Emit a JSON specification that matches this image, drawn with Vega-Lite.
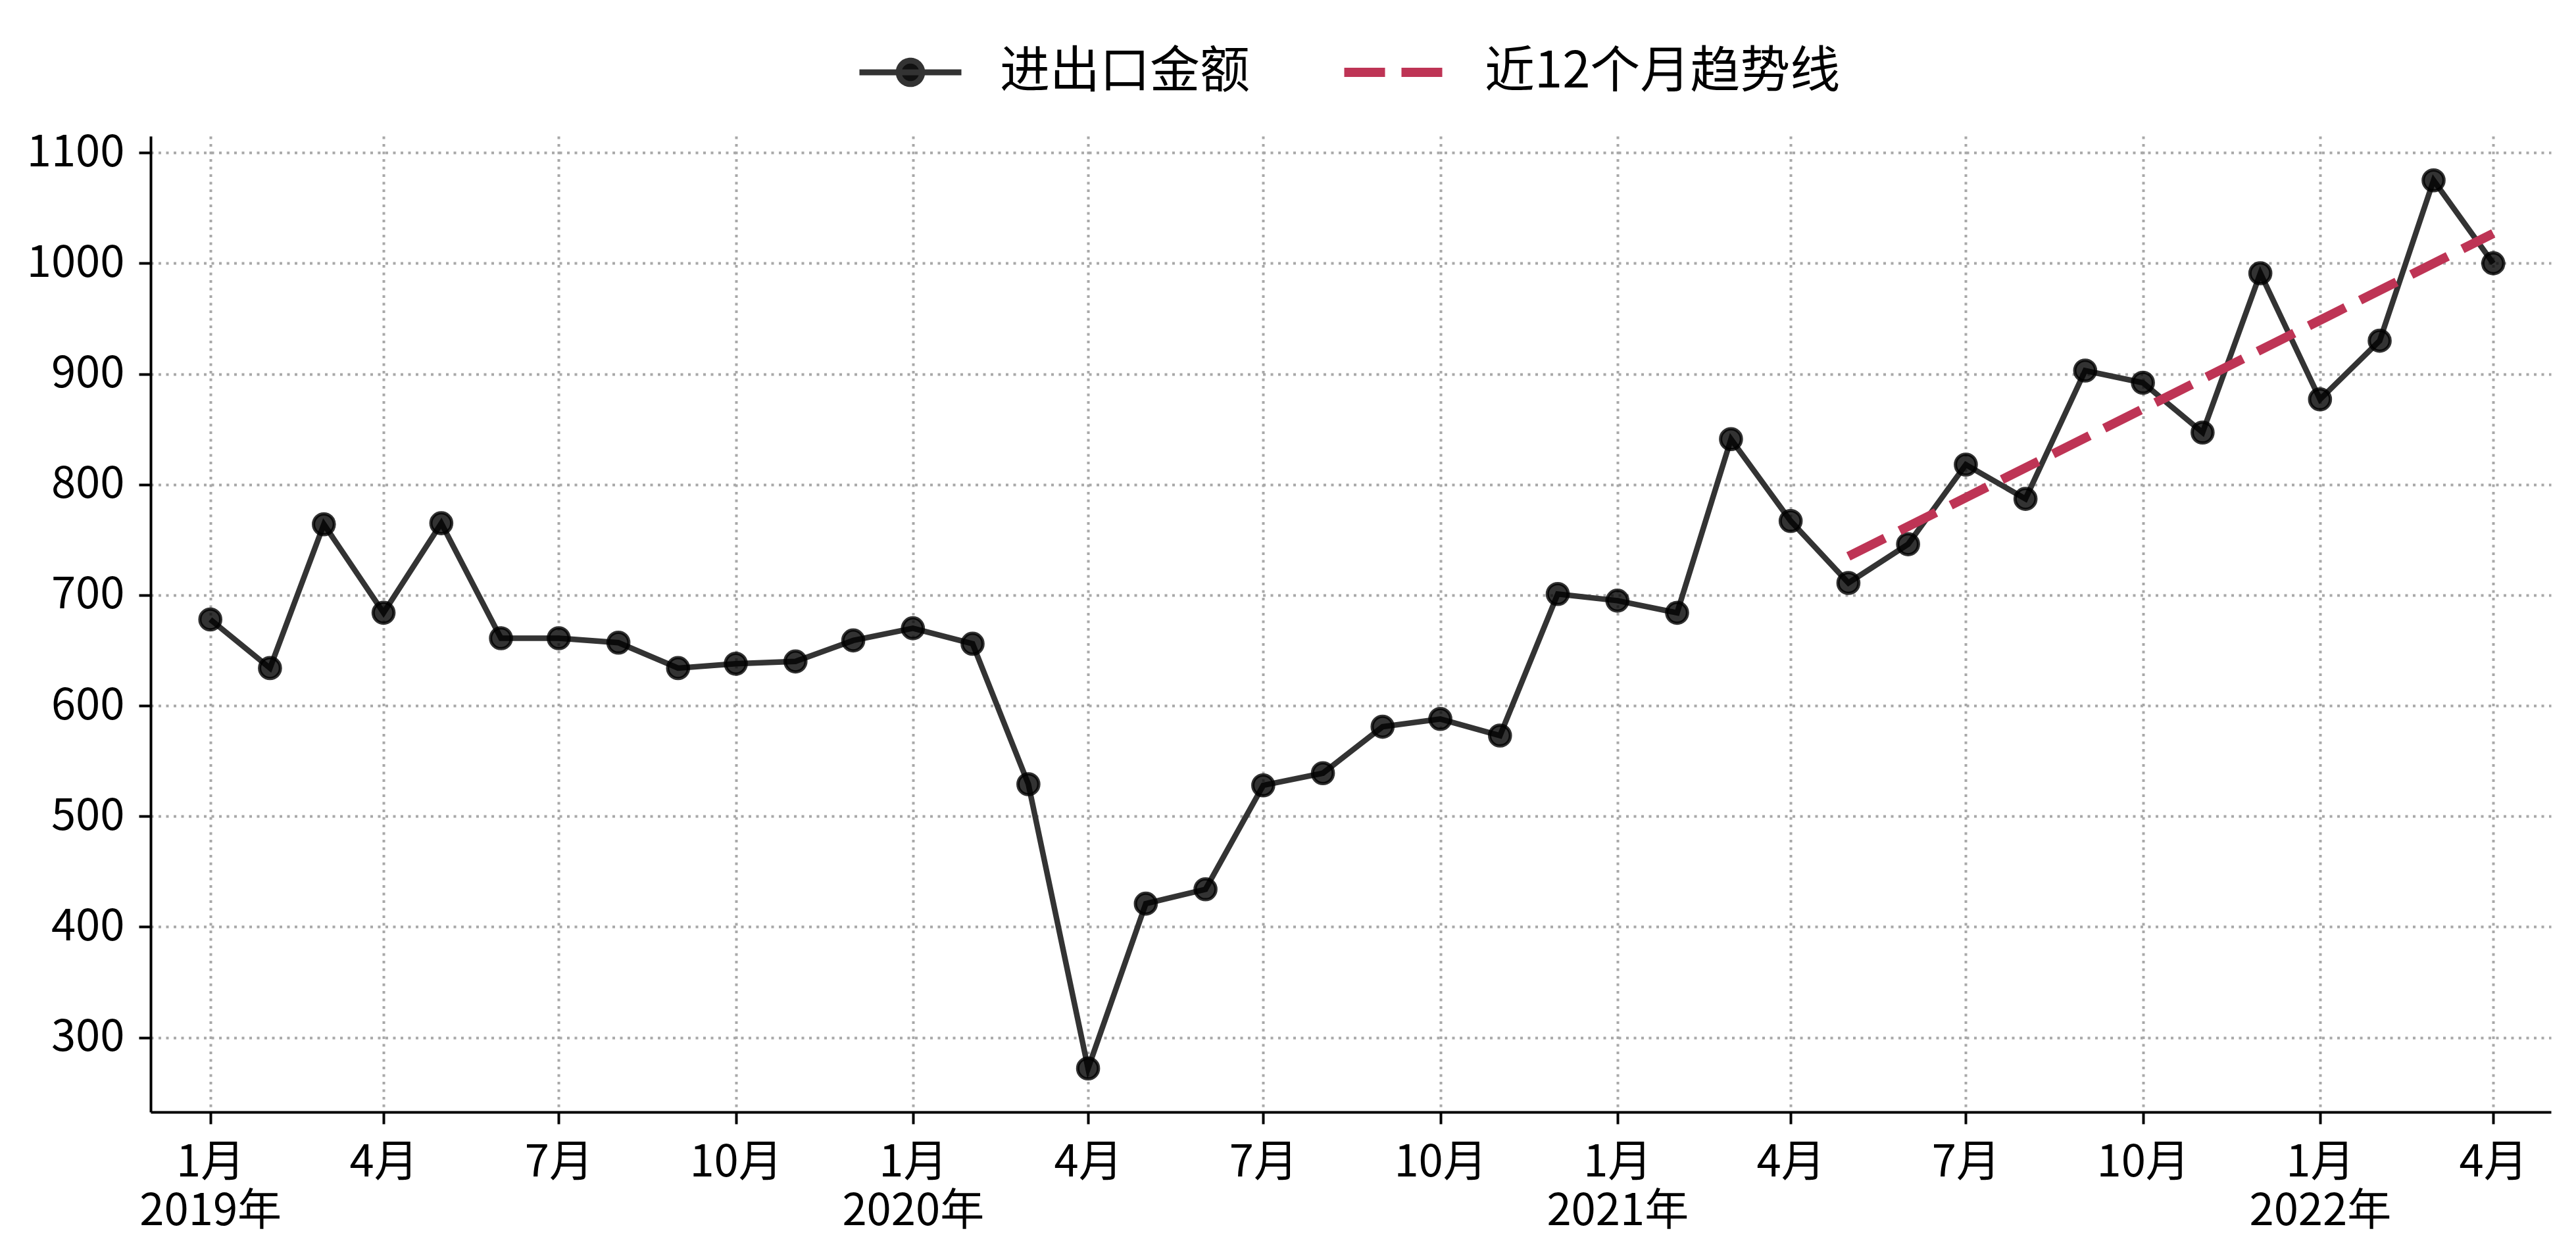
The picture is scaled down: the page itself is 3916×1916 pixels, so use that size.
{
  "$schema": "https://vega.github.io/schema/vega-lite/v6.json",
  "width": 3649,
  "height": 1484,
  "autosize": {"type": "none"},
  "padding": {"left": 229, "top": 207, "right": 38, "bottom": 225},
  "background": "white",
  "config": {
    "view": {"stroke": null},
    "font": "Noto Sans CJK SC",
    "axis": {
      "labelFont": "Noto Sans CJK SC",
      "labelFontSize": 67,
      "labelColor": "black",
      "labelLimit": 0,
      "domainColor": "black",
      "domainWidth": 4,
      "tickColor": "black",
      "tickWidth": 4,
      "tickSize": 18,
      "gridColor": "#a8a8a8",
      "gridWidth": 4,
      "gridDash": [4, 7.5],
      "title": null
    }
  },
  "datasets": {
    "trade": [
      {"date": "2019-01-01", "value": 678},
      {"date": "2019-02-01", "value": 634},
      {"date": "2019-03-01", "value": 764},
      {"date": "2019-04-01", "value": 684},
      {"date": "2019-05-01", "value": 765},
      {"date": "2019-06-01", "value": 661},
      {"date": "2019-07-01", "value": 661},
      {"date": "2019-08-01", "value": 657},
      {"date": "2019-09-01", "value": 634},
      {"date": "2019-10-01", "value": 638},
      {"date": "2019-11-01", "value": 640},
      {"date": "2019-12-01", "value": 659},
      {"date": "2020-01-01", "value": 670},
      {"date": "2020-02-01", "value": 656},
      {"date": "2020-03-01", "value": 529},
      {"date": "2020-04-01", "value": 272},
      {"date": "2020-05-01", "value": 421},
      {"date": "2020-06-01", "value": 434},
      {"date": "2020-07-01", "value": 528},
      {"date": "2020-08-01", "value": 539},
      {"date": "2020-09-01", "value": 581},
      {"date": "2020-10-01", "value": 588},
      {"date": "2020-11-01", "value": 573},
      {"date": "2020-12-01", "value": 701},
      {"date": "2021-01-01", "value": 695},
      {"date": "2021-02-01", "value": 684},
      {"date": "2021-03-01", "value": 841},
      {"date": "2021-04-01", "value": 767},
      {"date": "2021-05-01", "value": 711},
      {"date": "2021-06-01", "value": 746},
      {"date": "2021-07-01", "value": 818},
      {"date": "2021-08-01", "value": 787},
      {"date": "2021-09-01", "value": 903},
      {"date": "2021-10-01", "value": 892},
      {"date": "2021-11-01", "value": 847},
      {"date": "2021-12-01", "value": 991},
      {"date": "2022-01-01", "value": 877},
      {"date": "2022-02-01", "value": 930},
      {"date": "2022-03-01", "value": 1075},
      {"date": "2022-04-01", "value": 1000}
    ],
    "trend": [
      {"date": "2021-05-01", "value": 735},
      {"date": "2022-04-01", "value": 1027}
    ]
  },
  "encoding": {
    "y": {
      "field": "value",
      "type": "quantitative",
      "scale": {"domain": [232.6, 1115], "nice": false, "zero": false},
      "axis": {
        "values": [300, 400, 500, 600, 700, 800, 900, 1000, 1100],
        "format": "d",
        "labelPadding": 22
      }
    }
  },
  "resolve": {"axis": {"x": "independent"}},
  "layer": [
    {
      "data": {"name": "trade"},
      "mark": {"type": "line", "strokeWidth": 8.5},
      "encoding": {
        "x": {
          "field": "date",
          "type": "temporal",
          "scale": {
            "type": "utc",
            "domain": [
              {"year": 2018, "month": 12, "date": 1, "utc": true},
              {"year": 2022, "month": 5, "date": 1, "utc": true}
            ]
          },
          "axis": {
            "orient": "bottom",
            "tickCount": {"interval": "month", "step": 3},
            "labelExpr": "(utcmonth(datum.value) + 1) + '月'",
            "labelPadding": 26,
            "labelFlush": false,
            "labelOverlap": false,
            "labelBaseline": "top"
          }
        },
        "color": {
          "datum": "进出口金额",
          "scale": {
            "domain": ["进出口金额", "近12个月趋势线"],
            "range": ["#333333", "#be3455"]
          },
          "legend": {
            "title": null,
            "orient": "none",
            "legendX": 1117,
            "legendY": -135,
            "direction": "horizontal",
            "symbolType": "stroke",
            "symbolSize": 24025,
            "symbolStrokeWidth": 9,
            "labelFont": "Noto Sans CJK SC",
            "labelFontSize": 76,
            "labelLimit": 0,
            "labelColor": "black",
            "labelOffset": 98,
            "columnPadding": 115,
            "encode": {
              "symbols": {
                "update": {
                  "shape": {"signal": "datum.value === '进出口金额' ? 'M-1,0L1,0M-0.23,0A0.23,0.23,0,1,0,0.23,0A0.23,0.23,0,1,0,-0.23,0Z' : 'stroke'"},
                  "fill": {"signal": "datum.value === '进出口金额' ? '#111111' : 'transparent'"},
                  "strokeDash": {"signal": "datum.value === '进出口金额' ? [1, 0] : [62, 25]"},
                  "strokeWidth": {"signal": "datum.value === '进出口金额' ? 9 : 14"},
                  "opacity": {"value": 1}
                }
              }
            }
          }
        }
      }
    },
    {
      "data": {"name": "trade"},
      "mark": {
        "type": "point",
        "filled": true,
        "shape": "circle",
        "size": 1000,
        "color": "#000000",
        "fillOpacity": 0.8,
        "stroke": "#000000",
        "strokeOpacity": 0.8,
        "strokeWidth": 5
      },
      "encoding": {
        "x": {
          "field": "date",
          "type": "temporal",
          "scale": {
            "type": "utc",
            "domain": [
              {"year": 2018, "month": 12, "date": 1, "utc": true},
              {"year": 2022, "month": 5, "date": 1, "utc": true}
            ]
          },
          "axis": null
        }
      }
    },
    {
      "data": {"name": "trend"},
      "mark": {"type": "line", "strokeWidth": 14, "strokeDash": [62, 25]},
      "encoding": {
        "x": {
          "field": "date",
          "type": "temporal",
          "scale": {
            "type": "utc",
            "domain": [
              {"year": 2018, "month": 12, "date": 1, "utc": true},
              {"year": 2022, "month": 5, "date": 1, "utc": true}
            ]
          },
          "axis": {
            "orient": "bottom",
            "tickCount": {"interval": "month", "step": 3},
            "labelExpr": "utcmonth(datum.value) == 0 ? utcyear(datum.value) + '年' : ''",
            "domain": false,
            "ticks": false,
            "tickSize": 0,
            "grid": false,
            "labelPadding": 118,
            "labelFlush": false,
            "labelOverlap": false,
            "labelBaseline": "top"
          }
        },
        "color": {"datum": "近12个月趋势线"}
      }
    }
  ]
}
